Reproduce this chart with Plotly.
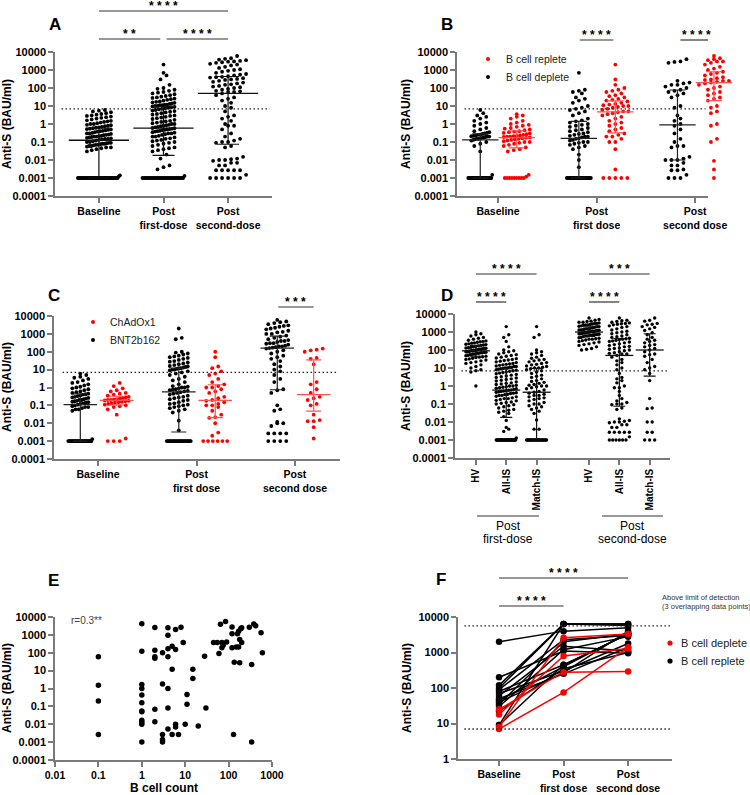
import numpy as np
import plotly.graph_objects as go

# ---------------- data ----------------
y_tick_vals = [1e-4, 1e-3, 1e-2, 1e-1, 1, 10, 100, 1000, 10000]
y_tick_text = ['0.0001', '0.001', '0.01', '0.1', '1', '10', '100', '1000', '10000']
lod = 7.0
upper_limit = 5600.0

# A: all patients
a_baseline = [0.001] * 34 + [0.0012, 0.0014,
    0.03, 0.035, 0.04, 0.045, 0.05, 0.05, 0.055, 0.06, 0.06, 0.065, 0.07, 0.07, 0.075, 0.08, 0.08, 0.085,
    0.09, 0.09, 0.1, 0.1, 0.11, 0.12, 0.13, 0.14, 0.15, 0.15, 0.16, 0.17, 0.18, 0.19, 0.2, 0.2, 0.21, 0.22,
    0.24, 0.25, 0.26, 0.28, 0.3, 0.3, 0.32, 0.35, 0.38, 0.4, 0.42, 0.45, 0.48, 0.5, 0.52, 0.55, 0.58, 0.62,
    0.65, 0.7, 0.75, 0.8, 0.85, 0.9, 1.0, 1.0, 1.1, 1.2, 1.3, 1.4, 1.5, 1.6, 1.8, 2.0, 2.2, 2.4, 2.6, 2.8,
    3.0, 3.3, 3.6, 4.0, 4.5, 5.0, 5.5, 6.0]
a_first = [0.001] * 30 + [0.0013, 0.003, 0.004, 0.005, 0.012, 0.02, 0.03, 0.035, 0.04, 0.045, 0.05, 0.06,
    0.07, 0.08, 0.09, 0.1, 0.11, 0.12, 0.13, 0.15, 0.16, 0.18, 0.2, 0.2, 0.22, 0.25, 0.27, 0.3, 0.3, 0.33,
    0.35, 0.38, 0.4, 0.42, 0.45, 0.48, 0.5, 0.52, 0.55, 0.58, 0.6, 0.65, 0.7, 0.75, 0.8, 0.85, 0.9, 1.0, 1.0,
    1.1, 1.2, 1.3, 1.4, 1.5, 1.7, 1.9, 2.1, 2.3, 2.5, 2.8, 3.0, 3.3, 3.6, 4.0, 4.4, 4.8, 5.2, 5.6, 6.0, 6.5,
    7.0, 7.5, 8.0, 8.5, 9.0, 9.5, 10, 10, 11, 11, 12, 12, 13, 14, 15, 16, 17, 18, 20, 22, 24, 26, 28, 30,
    33, 36, 40, 45, 50, 55, 60, 70, 80, 90, 100, 150, 300, 500, 700, 2000]
a_second = [0.001] * 6 + [0.0015, 0.0027, 0.0027, 0.0027, 0.0027, 0.0027, 0.005, 0.005, 0.007, 0.007,
    0.009, 0.01, 0.01, 0.011, 0.012, 0.015, 0.05, 0.06, 0.09, 0.1, 0.1, 0.12, 0.15, 0.2, 0.3, 0.5, 0.8,
    0.8, 1.0, 1.5, 2.0, 2.5, 3.0, 5.0, 8, 10, 15, 20, 25, 30, 40, 50, 60, 60, 65, 70, 80, 90, 100, 110,
    120, 130, 150, 160, 180, 200, 220, 250, 280, 300, 320, 350, 380, 400, 420, 450, 500, 550, 600, 700,
    800, 900, 1000, 1100, 1300, 1500, 1800, 2000, 2200, 2500, 2700, 2900, 3000, 3200, 3500, 3800, 4200,
    4500, 6000]

# B: B cell deplete (black) vs replete (red)
b_baseline_deplete = [0.001] * 24 + [0.0015, 0.03, 0.06, 0.08, 0.1, 0.12, 0.13, 0.14, 0.15, 0.15, 0.16,
    0.17, 0.18, 0.19, 0.2, 0.2, 0.21, 0.22, 0.23, 0.25, 0.26, 0.28, 0.3, 0.32, 0.35, 0.4, 0.5, 0.6, 0.8,
    1.0, 1.2, 1.5, 2.0, 2.5, 3.0, 4.0, 6.0]
b_baseline_replete = [0.001] * 9 + [0.0012, 0.0015, 0.03, 0.035, 0.04, 0.05, 0.06, 0.07, 0.08, 0.09, 0.1,
    0.1, 0.11, 0.12, 0.13, 0.14, 0.15, 0.16, 0.17, 0.18, 0.19, 0.2, 0.2, 0.21, 0.22, 0.23, 0.25, 0.27, 0.3,
    0.32, 0.35, 0.38, 0.4, 0.45, 0.5, 0.55, 0.6, 0.7, 0.8, 0.9, 1.0, 1.2, 1.5, 2.0, 2.5, 3.0, 3.5]
b_first_deplete = [0.001] * 22 + [0.004, 0.01, 0.02, 0.04, 0.05, 0.06, 0.07, 0.08, 0.09, 0.1, 0.1, 0.12,
    0.13, 0.15, 0.16, 0.18, 0.2, 0.2, 0.22, 0.25, 0.28, 0.3, 0.35, 0.4, 0.45, 0.5, 0.6, 0.7, 0.8, 0.9, 1.0,
    1.2, 1.4, 1.6, 2, 3, 4, 5, 6, 7, 8, 10, 15, 20, 25, 30, 50, 60, 70, 80, 700]
b_first_replete = [0.001] * 5 + [0.003, 0.04, 0.1, 0.1, 0.15, 0.2, 0.2, 0.25, 0.3, 0.4, 0.5, 0.6, 0.8,
    1.0, 1.2, 1.5, 2, 2.5, 3, 3.5, 4, 4.5, 5, 5, 6, 7, 8, 9, 10, 10, 11, 12, 13, 15, 18, 20, 22, 25, 30, 35,
    40, 50, 60, 70, 80, 100, 150, 300, 2000]
b_second_deplete = [0.001, 0.001, 0.001, 0.0015, 0.0027, 0.0027, 0.003, 0.005, 0.005, 0.007, 0.01, 0.01,
    0.01, 0.012, 0.015, 0.05, 0.06, 0.06, 0.1, 0.15, 0.3, 0.5, 0.8, 1.0, 1.5, 2, 3, 8, 10, 30, 40, 50, 60,
    70, 80, 100, 120, 150, 150, 180, 200, 250, 2500, 2800, 3000, 4000]
b_second_replete = [0.001, 0.003, 0.009, 0.1, 0.15, 0.8, 1.0, 4, 5, 8, 10, 20, 25, 30, 40, 50, 60, 80,
    100, 120, 150, 180, 200, 220, 250, 250, 280, 300, 350, 400, 500, 600, 700, 800, 1000, 1200, 1500, 2000,
    2500, 3000, 3000, 3500, 4000, 4500, 6000]

# C: BNT2b162 (black) vs ChAdOx1 (red)
c_baseline_bnt = [0.001] * 28 + [0.0013, 0.05, 0.06, 0.06, 0.07, 0.08, 0.08, 0.09, 0.1, 0.11, 0.12, 0.13,
    0.14, 0.15, 0.16, 0.17, 0.18, 0.2, 0.2, 0.22, 0.24, 0.26, 0.28, 0.3, 0.33, 0.36, 0.4, 0.42, 0.45, 0.5,
    0.55, 0.6, 0.7, 0.8, 0.9, 1.0, 1.1, 1.3, 1.5, 1.8, 2.0, 2.5, 3.0, 3.5, 4.0, 5.0, 6.0]
c_baseline_chad = [0.001, 0.001, 0.001, 0.0014, 0.03, 0.06, 0.08, 0.09, 0.1, 0.11, 0.12, 0.13, 0.14, 0.15,
    0.16, 0.17, 0.18, 0.19, 0.2, 0.2, 0.21, 0.22, 0.24, 0.26, 0.28, 0.3, 0.35, 0.4, 0.45, 0.5, 0.6, 0.7,
    0.9, 1.2, 1.8]
c_first_bnt = [0.001] * 24 + [0.004, 0.014, 0.04, 0.05, 0.06, 0.07, 0.08, 0.09, 0.1, 0.11, 0.12, 0.13,
    0.15, 0.18, 0.2, 0.22, 0.25, 0.28, 0.3, 0.35, 0.4, 0.45, 0.5, 0.55, 0.6, 0.65, 0.7, 0.75, 0.8, 0.9,
    1.0, 1.0, 1.1, 1.2, 1.5, 2, 2.5, 3, 4, 5, 6, 7, 8, 9, 10, 10, 11, 12, 12, 13, 14, 15, 16, 18, 20, 22,
    25, 28, 30, 35, 40, 45, 50, 55, 60, 70, 80, 90, 100, 500, 600, 2000]
c_first_chad = [0.001] * 6 + [0.002, 0.003, 0.01, 0.02, 0.022, 0.03, 0.05, 0.08, 0.1, 0.1, 0.12, 0.15,
    0.18, 0.2, 0.25, 0.3, 0.5, 0.6, 0.8, 1.0, 1.0, 1.2, 1.5, 2, 3, 5, 6, 8, 12, 15, 50, 100]
c_second_bnt = [0.001] * 4 + [0.0027] * 4 + [0.007, 0.01, 0.01, 0.012, 0.05, 0.06, 0.1, 0.5, 0.7, 0.8,
    2, 3, 5, 8, 10, 15, 20, 30, 40, 50, 60, 80, 100, 120, 150, 160, 170, 180, 200, 200, 220, 250, 280,
    300, 300, 350, 400, 400, 450, 500, 600, 700, 800, 1000, 1000, 1200, 1300, 1500, 1800, 2000, 2200,
    2500, 2800, 3000, 3500, 4000, 4500, 5000, 6000]
c_second_chad = [0.0014, 0.006, 0.013, 0.013, 0.015, 0.03, 0.1, 0.12, 0.2, 0.25, 0.3, 0.5, 0.8, 1.5, 2,
    20, 40, 45, 100, 120, 130, 150]

# D: healthy volunteers vs all / matched immunosuppressed (All-IS = panel A groups)
d_hv_first = [1.0, 6, 7, 8, 10, 12, 15, 18, 20, 22, 25, 28, 30, 32, 35, 38, 40, 42, 45, 48, 50, 55, 55,
    60, 60, 65, 65, 70, 70, 75, 75, 80, 80, 85, 85, 90, 90, 95, 95, 100, 100, 105, 110, 110, 115, 120, 120,
    125, 130, 135, 140, 150, 160, 170, 180, 190, 200, 210, 220, 240, 250, 270, 290, 300, 320, 350, 400,
    450, 500, 600, 700, 800, 1000]
d_match_first = [0.001] * 24 + [0.004, 0.004, 0.013, 0.03, 0.04, 0.05, 0.06, 0.07, 0.08, 0.1, 0.1, 0.12,
    0.15, 0.18, 0.2, 0.22, 0.25, 0.3, 0.3, 0.35, 0.4, 0.45, 0.5, 0.6, 0.7, 0.8, 0.9, 1.0, 1.0, 1.1, 1.2,
    1.4, 1.6, 1.8, 2, 2.5, 3, 3.5, 4, 5, 6, 7, 8, 9, 10, 10, 11, 12, 13, 15, 16, 18, 20, 22, 25, 28, 30,
    35, 40, 50, 60, 70, 80, 100, 500, 700, 2000]
d_hv_second = [100, 110, 120, 150, 180, 200, 220, 250, 280, 300, 330, 360, 400, 400, 420, 450, 480, 500,
    550, 600, 600, 620, 650, 700, 700, 720, 750, 800, 800, 820, 850, 900, 900, 920, 950, 1000, 1000, 1000,
    1050, 1100, 1100, 1100, 1150, 1200, 1200, 1250, 1300, 1300, 1350, 1400, 1500, 1500, 1600, 1700, 1800,
    1900, 2000, 2000, 2100, 2200, 2400, 2500, 2500, 2600, 2800, 3000, 3000, 3200, 3500, 3500, 3800, 4000,
    4500, 5000, 6000]
d_match_second = [0.001, 0.001, 0.001, 0.0027, 0.0027, 0.01, 0.01, 0.055, 0.06, 0.2, 2.0, 5, 8, 10, 12,
    20, 30, 45, 55, 60, 80, 100, 120, 150, 180, 200, 250, 300, 350, 400, 500, 700, 900, 1200, 1500, 1800,
    2000, 2500, 2700, 3000, 4000, 4500, 6000]

# E: B cell count vs anti-S
e_bcell = [0.1, 0.1, 0.1, 0.1, 1, 1, 1, 1, 1, 1, 1, 1, 1, 1, 1, 1, 2, 2, 2, 2, 2, 2, 3, 3, 3, 3, 3,
    4, 4, 4, 4, 4, 4, 4, 5, 5, 5, 6, 6, 6, 6, 7, 8, 9, 10, 11, 11, 15, 15, 20, 28, 30, 45, 55, 60, 65,
    70, 70, 75, 85, 90, 120, 120, 120, 130, 135, 150, 160, 170, 170, 180, 180, 190, 200, 200, 300, 340,
    340, 380, 420, 560, 600]
e_antis = [59, 1.5, 0.2, 0.0027, 4200, 120, 1.7, 1.0, 0.43, 0.16, 0.056, 0.05, 0.017, 0.013, 0.01, 0.001,
    2600, 140, 60, 50, 0.07, 0.014, 100, 1.8, 0.0027, 0.0014, 0.001, 2500, 950, 170, 60, 1.0, 0.08,
    0.0055, 230, 12, 0.0027, 2000, 150, 0.01, 0.007, 0.0027, 2700, 370, 0.01, 0.46, 0.13, 12, 3.6, 0.008,
    63, 0.08, 370, 370, 90, 3900, 380, 190, 260, 5600, 400, 2800, 1150, 190, 0.0027, 29, 210, 1150, 210,
    1600, 28, 550, 2200, 2500, 370, 2700, 22, 0.001, 4000, 3200, 1300, 100]

# F: paired samples
f_deplete_baseline = [8, 18, 7, 25]
f_deplete_first = [2600, 800, 75, 280]
f_deplete_second = [3300, 1300, 1400, 290]
f_replete_baseline = [2000, 200, 120, 100, 90, 80, 70, 60, 50, 45, 35, 30, 22, 9, 9, 40]
f_replete_first = [4000, 1100, 6300, 6300, 2300, 450, 300, 1500, 250, 400, 2000, 1200, 350, 6300, 450, 270]
f_replete_second = [5000, 950, 6300, 5800, 3000, 3300, 1800, 1100, 1400, 3500, 3300, 2800, 1000, 6300, 3300, 4000]

# ---------------- helpers ----------------
W, H = 750, 795
FONT = 'Arial, Liberation Sans, sans-serif'
GRAY = '#7a7a7a'
RED = '#ff0000'


def px(x):
    return x / W


def py(y):
    return 1 - y / H


fig = go.Figure()


def swarm(vals, sx, sy, dh, dv, w, wfloor):
    # row based scatter like GraphPad: bin by log value, spread each row sideways
    lv = np.log10(np.asarray(vals, float))
    order = np.argsort(lv, kind='stable')
    rows = []
    for i in order:
        if rows and lv[i] - lv[rows[-1][0]] < dv / sy:
            rows[-1].append(i)
        else:
            rows.append([i])
    off = np.zeros(len(lv))
    for r in rows:
        n = len(r)
        if n > 1:
            half = wfloor if lv[r[0]] <= -2.95 else w
            sp = min(dh, 2 * half / (n - 1))
            for k, i in enumerate(r):
                off[i] = (k - (n - 1) / 2) * sp
    return off / sx


def add_group(vals, xc, xax, yax, sx, color, lcolor, w, wfloor, medw, capw, dh=6, dv=4, sy=18.0, size=3.8):
    vals = np.asarray(vals, float)
    xs = xc + swarm(vals, sx, sy, dh, dv, w, wfloor)
    fig.add_trace(go.Scatter(x=xs, y=vals, mode='markers', xaxis=xax, yaxis=yax,
                             marker=dict(color=color, size=size), hoverinfo='skip', showlegend=False))
    q1, med, q3 = np.percentile(vals, [25, 50, 75])
    fig.add_trace(go.Scatter(x=[xc], y=[med], mode='markers', xaxis=xax, yaxis=yax,
                             marker=dict(symbol='line-ew', size=medw, color=lcolor,
                                         line=dict(width=1.3, color=lcolor)),
                             error_y=dict(type='data', symmetric=False, array=[q3 - med],
                                          arrayminus=[med - q1], width=capw, thickness=1.2, color=lcolor),
                             hoverinfo='skip', showlegend=False))


def set_axes(ax, xpx, ypx, xrange, xvals, xtext, yrange, yvals, ytext, xtype='linear',
             xangle=0, xsize=10.5):
    common = dict(showline=True, linecolor=GRAY, linewidth=1.5, ticks='outside', ticklen=5,
                  tickwidth=1.5, tickcolor=GRAY, showgrid=False, zeroline=False, fixedrange=True,
                  automargin=False)
    fig.update_layout(**{
        'xaxis' + ax: dict(domain=[px(xpx[0]), px(xpx[1])], anchor='y' + ax, range=xrange, type=xtype,
                           tickmode='array', tickvals=xvals, ticktext=xtext, tickangle=xangle,
                           tickfont=dict(family=FONT, size=xsize, color='black', weight='bold'), **common),
        'yaxis' + ax: dict(domain=[py(ypx[1]), py(ypx[0])], anchor='x' + ax, range=yrange, type='log',
                           tickmode='array', tickvals=yvals, ticktext=ytext,
                           tickfont=dict(family=FONT, size=11, color='black', weight='bold'), **common),
    })


def text(x, y, s, size=12, bold=False, color='black', xanchor='center', angle=0, xref='paper'):
    fig.add_annotation(x=x if xref != 'paper' else px(x), y=py(y), xref=xref, yref='paper', text=s,
                       showarrow=False, textangle=angle, xanchor=xanchor, yanchor='middle',
                       font=dict(family=FONT, size=size, color=color, weight='bold' if bold else 'normal'))


def sig(ax, x0, x1, ly, stars):
    fig.add_shape(type='line', xref='x' + ax, yref='paper', x0=x0, x1=x1, y0=py(ly), y1=py(ly),
                  line=dict(color='#333333', width=1.2))
    text((x0 + x1) / 2, ly - 5, stars, size=12, bold=True, xref='x' + ax)


def hline(ax, value):
    fig.add_shape(type='line', xref='x' + ax + ' domain', yref='y' + ax, x0=0.03, x1=0.99,
                  y0=value, y1=value, line=dict(color='#222222', width=1.3, dash='1.5px,2.5px'))


def dot(x, y, color, r=2.0):
    fig.add_shape(type='circle', xref='paper', yref='paper', x0=px(x - r), x1=px(x + r),
                  y0=py(y + r), y1=py(y - r), fillcolor=color, line=dict(width=0))


dose_dash = ['Baseline', 'Post<br>first-dose', 'Post<br>second-dose']
dose_space = ['Baseline', 'Post<br>first dose', 'Post<br>second dose']
d_groups = ['HV', 'All-IS', 'Match-IS', 'HV', 'All-IS', 'Match-IS']
d_pos = [0, 1, 2, 3.73, 4.73, 5.73]

# ---------------- A ----------------
set_axes('', (55, 272), (52, 196), [-0.68, 2.68], [0, 1, 2], dose_dash, [-4, 4], y_tick_vals, y_tick_text)
for i, (v, w) in enumerate([(a_baseline, 12), (a_first, 11), (a_second, 21)]):
    add_group(v, i, 'x', 'y', 64.6, 'black', '#111111', w, 21, 43, 11)
hline('', lod)
sig('', 0, 2, 11, '* * * *')
sig('', 0, 0.95, 39, '* *')
sig('', 1.05, 2, 39, '* * * *')

# ---------------- B ----------------
set_axes('2', (457, 708), (52, 196), [-0.416, 2.13], [0, 1, 2], dose_space, [-4, 4], y_tick_vals, y_tick_text)
# hidden twin of x2 with the same scale, wide enough for the red group that hangs past the axis end
fig.update_layout(xaxis7=dict(domain=[px(457), 1], anchor='y2', range=[-0.416, -0.416 + (W - 457) / 98.6],
                              visible=False, fixedrange=True))
b_sets = [(b_baseline_deplete, b_baseline_replete, 9, 13), (b_first_deplete, b_first_replete, 9, 13),
          (b_second_deplete, b_second_replete, 13, 16)]
for i, (vd, vr, wd, wr) in enumerate(b_sets):
    add_group(vd, i - 0.18, 'x7', 'y2', 98.6, 'black', '#222222', wd, 12, 26, 8)
    add_group(vr, i + 0.19, 'x7', 'y2', 98.6, RED, '#ff5050', wr, 12, 26, 8)
hline('2', lod)
sig('2', 0.83, 1.17, 40, '* * * *')
sig('2', 1.85, 2.17, 40, '* * * *')
dot(488, 59, RED)
text(504, 59, 'B cell replete', size=10.5, color='#222222', xanchor='left')
dot(488, 77, 'black')
text(504, 77, 'B cell deplete', size=10.5, color='#222222', xanchor='left')

# ---------------- C ----------------
set_axes('3', (54, 340), (316, 459), [-0.447, 2.457], [0, 1, 2], dose_space, [-4, 4], y_tick_vals, y_tick_text)
c_sets = [(c_baseline_bnt, c_baseline_chad, 8, 12), (c_first_bnt, c_first_chad, 9, 11),
          (c_second_bnt, c_second_chad, 11, 9)]
for i, (vb, vc, wb, wc) in enumerate(c_sets):
    add_group(vb, i - 0.18, 'x3', 'y3', 98.5, 'black', '#222222', wb, 12, 24, 7.5, sy=17.9)
    add_group(vc, i + 0.19, 'x3', 'y3', 98.5, RED, '#ff5050', wc, 12, 24, 7.5, sy=17.9)
hline('3', lod)
sig('3', 1.83, 2.19, 307, '* * *')
dot(93, 322, RED)
text(108, 322, 'ChAdOx1', size=10.5, color='#222222', xanchor='left')
dot(93, 340, 'black')
text(108, 340, 'BNT2b162', size=10.5, color='#222222', xanchor='left')

# ---------------- D ----------------
set_axes('4', (455, 670), (314, 458), [-0.69, 6.4], d_pos, d_groups, [-4, 4], y_tick_vals, y_tick_text,
         xangle=-90, xsize=10)
for p, v in zip(d_pos, [d_hv_first, a_first, d_match_first, d_hv_second, a_second, d_match_second]):
    add_group(v, p, 'x4', 'y4', 30.3, 'black', '#111111', 10, 10, 20, 6, dh=5, dv=3.5, size=3.4)
hline('4', lod)
sig('4', 0, 2, 274, '* * * *')
sig('4', 0, 1, 302, '* * * *')
sig('4', 3.73, 5.73, 274, '* * *')
sig('4', 3.73, 4.73, 302, '* * * *')
for x0, x1, label in [(477, 539, 'first-dose'), (602, 663, 'second-dose')]:
    fig.add_shape(type='line', xref='paper', yref='paper', x0=px(x0), x1=px(x1), y0=py(516), y1=py(516),
                  line=dict(color='#333333', width=1.2))
    text((x0 + x1) / 2, 526, 'Post', size=12)
    text((x0 + x1) / 2, 539, label, size=12)

# ---------------- E ----------------
set_axes('5', (55, 272), (617, 760), [-2, 3], [0.01, 0.1, 1, 10, 100, 1000],
         ['0.01', '0.1', '1', '10', '100', '1000'], [-4, 4], y_tick_vals, y_tick_text, xtype='log')
fig.add_trace(go.Scatter(x=e_bcell, y=e_antis, mode='markers', xaxis='x5', yaxis='y5',
                         marker=dict(color='black', size=5.5), hoverinfo='skip', showlegend=False))
text(69, 620, 'r=0.3**', size=10, color='#444444', xanchor='left')
text(164, 788, 'B cell count', size=12, bold=True)

# ---------------- F ----------------
set_axes('6', (458, 672), (617, 759), [-0.636, 2.68], [0, 1, 2], dose_space, [0, 4],
         [1, 10, 100, 1000, 10000], ['1', '10', '100', '1000', '10000'])
for b, f1, f2 in zip(f_replete_baseline, f_replete_first, f_replete_second):
    fig.add_trace(go.Scatter(x=[0, 1, 2], y=[b, f1, f2], mode='lines+markers', xaxis='x6', yaxis='y6',
                             line=dict(color='black', width=1.5), marker=dict(color='black', size=6.5),
                             hoverinfo='skip', showlegend=False))
for b, f1, f2 in zip(f_deplete_baseline, f_deplete_first, f_deplete_second):
    fig.add_trace(go.Scatter(x=[0, 1, 2], y=[b, f1, f2], mode='lines+markers', xaxis='x6', yaxis='y6',
                             line=dict(color=RED, width=1.5), marker=dict(color=RED, size=6.5),
                             hoverinfo='skip', showlegend=False))
hline('6', lod)
hline('6', upper_limit)
sig('6', 0, 2, 578, '* * * *')
sig('6', 0, 1, 606, '* * * *')
dot(670, 643, RED, r=2.6)
text(679, 643, 'B cell deplete', size=11, color='#222222', xanchor='left')
dot(670, 661, 'black', r=2.6)
text(679, 661, 'B cell replete', size=11, color='#222222', xanchor='left')
text(660, 597, 'Above limit of detection', size=7.5, color='#333333', xanchor='left')
text(660, 606, '(3 overlapping data points)', size=7.5, color='#333333', xanchor='left')

# ---------------- panel letters and y titles ----------------
for letter, x, y in [('A', 55, 25), ('B', 447, 25), ('C', 54, 296), ('D', 447, 296), ('E', 54, 580), ('F', 441, 579)]:
    text(x, y, letter, size=17, bold=True)
for x, y in [(7, 124), (406, 124), (7, 387), (406, 386), (7, 688), (407, 688)]:
    text(x, y, 'Anti-S (BAU/ml)', size=12, bold=True, angle=-90)

fig.update_layout(width=W, height=H, margin=dict(l=0, r=0, t=0, b=0), plot_bgcolor='white',
                  paper_bgcolor='white', showlegend=False, font=dict(family=FONT))
fig.write_html('out.html', config={'displayModeBar': False},
               post_script="document.body.style.margin='0';document.body.style.padding='0';")
